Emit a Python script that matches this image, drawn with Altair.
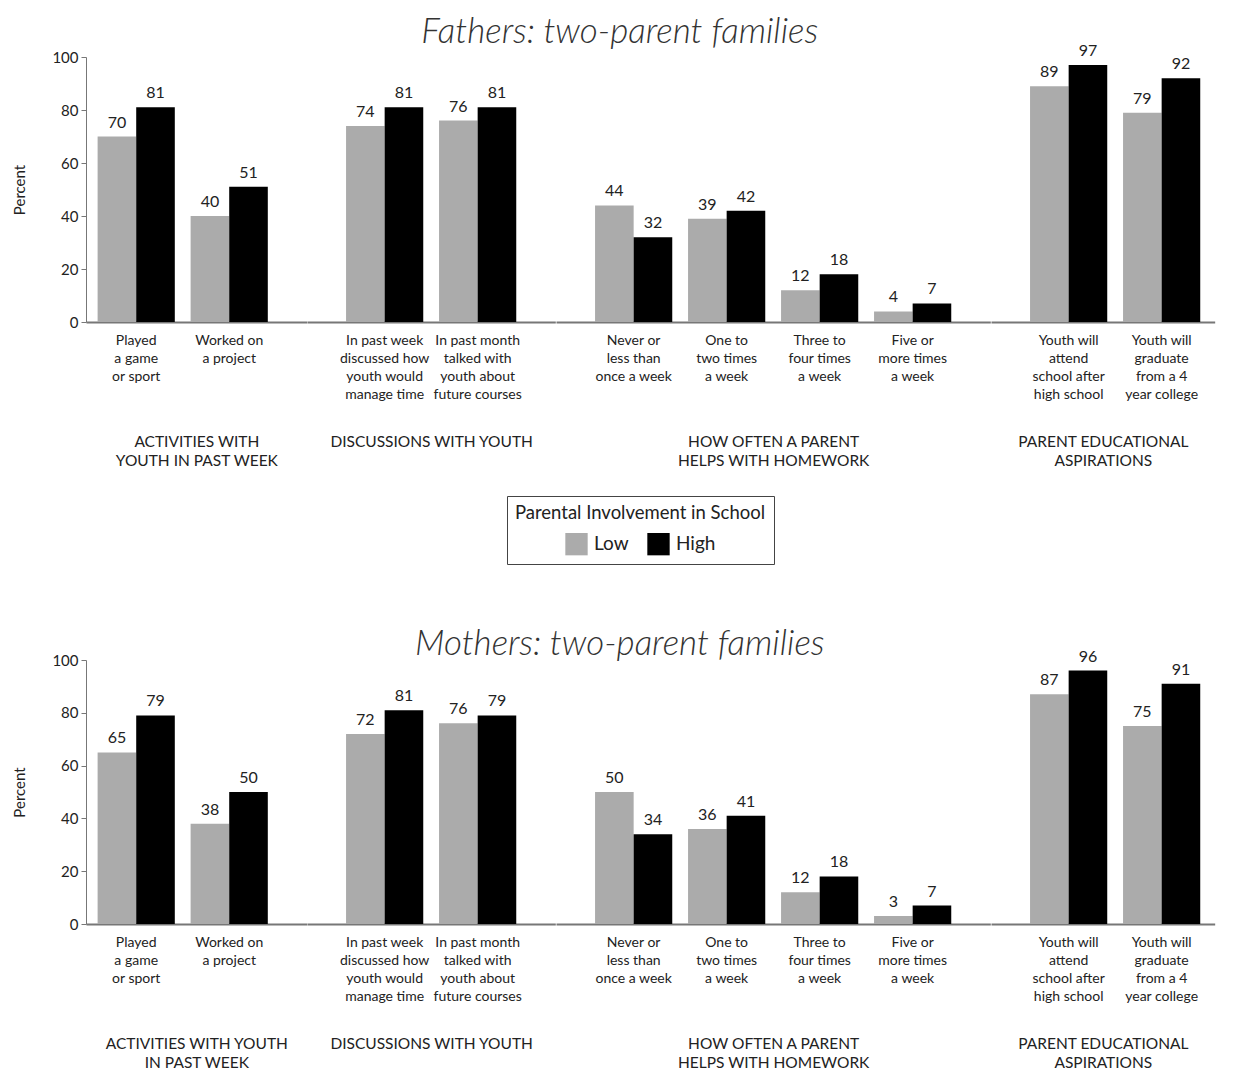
import altair as alt
import pandas as pd

# ---- data ----
categories = [
    "Played|a game|or sport",
    "Worked on|a project",
    "In past week|discussed how|youth would|manage time",
    "In past month|talked with|youth about|future courses",
    "Never or|less than|once a week",
    "One to|two times|a week",
    "Three to|four times|a week",
    "Five or|more times|a week",
    "Youth will|attend|school after|high school",
    "Youth will|graduate|from a 4|year college",
]
groups = ["act", "act", "disc", "disc", "hw", "hw", "hw", "hw", "asp", "asp"]
group_order = ["act", "disc", "hw", "asp"]

fathers_low = [70, 40, 74, 76, 44, 39, 12, 4, 89, 79]
fathers_high = [81, 51, 81, 81, 32, 42, 18, 7, 97, 92]
mothers_low = [65, 38, 72, 76, 50, 36, 12, 3, 87, 75]
mothers_high = [79, 50, 81, 79, 34, 41, 18, 7, 96, 91]

fathers_group_titles = {
    "act": ["ACTIVITIES WITH", "YOUTH IN PAST WEEK"],
    "disc": ["DISCUSSIONS WITH YOUTH"],
    "hw": ["HOW OFTEN A PARENT", "HELPS WITH HOMEWORK"],
    "asp": ["PARENT EDUCATIONAL", "ASPIRATIONS"],
}
mothers_group_titles = {
    "act": ["ACTIVITIES WITH YOUTH", "IN PAST WEEK"],
    "disc": ["DISCUSSIONS WITH YOUTH"],
    "hw": ["HOW OFTEN A PARENT", "HELPS WITH HOMEWORK"],
    "asp": ["PARENT EDUCATIONAL", "ASPIRATIONS"],
}
levels = ["Low", "High"]
level_colors = ["#ababab", "#000000"]


def make_df(low, high):
    rows = []
    for c, g, lo, hi in zip(categories, groups, low, high):
        rows.append({"category": c, "group": g, "level": "Low", "value": lo})
        rows.append({"category": c, "group": g, "level": "High", "value": hi})
    return pd.DataFrame(rows)


FONT = "Lato"
TEXT = "#222222"
AXIS = "#777777"
STEP = 93
PAD_INNER = 0.17
# outer padding / alignment of each group's band scale (layout only)
group_pad = {"act": (0.2715, 0.23), "disc": (0.42, 0.5), "hw": (0.42, 0.5), "asp": (0.2876, 0.73)}

legend = alt.Legend(
    title="Parental Involvement in School",
    orient="none",
    legendX=421,
    legendY=439,
    direction="horizontal",
    titleFontSize=18.5,
    titleFontWeight="normal",
    titleColor=TEXT,
    titleFont=FONT,
    titleAnchor="middle",
    titleLimit=500,
    titlePadding=10,
    labelFontSize=19,
    labelFont=FONT,
    labelColor=TEXT,
    symbolType="square",
    symbolSize=500,
    symbolStrokeWidth=0,
    columnPadding=18,
    labelOffset=6,
    strokeColor="#444444",
    fillColor="white",
    padding=8,
)


def group_chart(df, g, title, first, height):
    cats = [c for c, gg in zip(categories, groups) if gg == g]
    po, al = group_pad[g]
    base = alt.Chart(df).transform_filter(alt.datum.group == g)
    x = alt.X(
        "category:N",
        sort=cats,
        scale=alt.Scale(paddingInner=PAD_INNER, paddingOuter=po, align=al),
        axis=alt.Axis(
            title=title,
            labelExpr="split(datum.label, '|')",
            labelAngle=0,
            labelFontSize=14,
            labelLineHeight=18,
            labelPadding=11,
            labelBaseline="top",
            labelColor=TEXT,
            labelFont=FONT,
            labelLimit=300,
            ticks=False,
            domainColor=AXIS,
            domainWidth=2,
            titleFontSize=15.5,
            titleFontWeight="normal",
            titleFont=FONT,
            titleColor=TEXT,
            titleLineHeight=19,
            titleBaseline="top",
            titleY=112,
        ),
    )
    if first:
        y = alt.Y(
            "value:Q",
            scale=alt.Scale(domain=[0, 100]),
            axis=alt.Axis(
                title="Percent",
                values=[0, 20, 40, 60, 80, 100],
                grid=False,
                domainColor=AXIS,
                tickColor=AXIS,
                tickSize=5,
                labelFontSize=15,
                labelColor=TEXT,
                labelFont=FONT,
                labelPadding=3,
                titleFontSize=15,
                titleFontWeight="normal",
                titleFont=FONT,
                titleColor=TEXT,
                titlePadding=24,
            ),
        )
    else:
        y = alt.Y("value:Q", scale=alt.Scale(domain=[0, 100]), axis=None)
    xoff = alt.XOffset("level:N", sort=levels, scale=alt.Scale(paddingInner=0, paddingOuter=0))
    bars = base.mark_bar().encode(
        x=x,
        y=y,
        xOffset=xoff,
        color=alt.Color("level:N", sort=levels,
                        scale=alt.Scale(domain=levels, range=level_colors),
                        legend=legend),
    )
    text = base.mark_text(baseline="bottom", dy=-6, fontSize=16, font=FONT, color=TEXT).encode(
        x=x, y=y, xOffset=xoff, text="value:Q"
    )
    return alt.layer(bars, text).properties(
        width={"step": STEP, "for": "position"}, height=height
    )


def row(df, titles, title_text, title_offset, height):
    charts = [group_chart(df, g, titles[g], i == 0, height) for i, g in enumerate(group_order)]
    return alt.hconcat(*charts, spacing=0).properties(
        title=alt.TitleParams(
            title_text, fontSize=35, fontStyle="italic", fontWeight=300,
            font=FONT, color="#333333", anchor="middle", offset=title_offset, dx=6,
        )
    )


fathers = row(make_df(fathers_low, fathers_high), fathers_group_titles,
              "Fathers: two-parent families", -7, 265)
mothers = row(make_df(mothers_low, mothers_high), mothers_group_titles,
              "Mothers: two-parent families", -13, 264)

chart = (
    alt.vconcat(fathers, mothers, spacing=157)
    .properties(padding={"left": 4, "top": 6, "right": 4, "bottom": 4}, background="white")
    .configure_view(strokeWidth=0)
    .configure_concat(spacing=0)
)

chart.save("out.html", embed_options={"renderer": "svg", "actions": False})
